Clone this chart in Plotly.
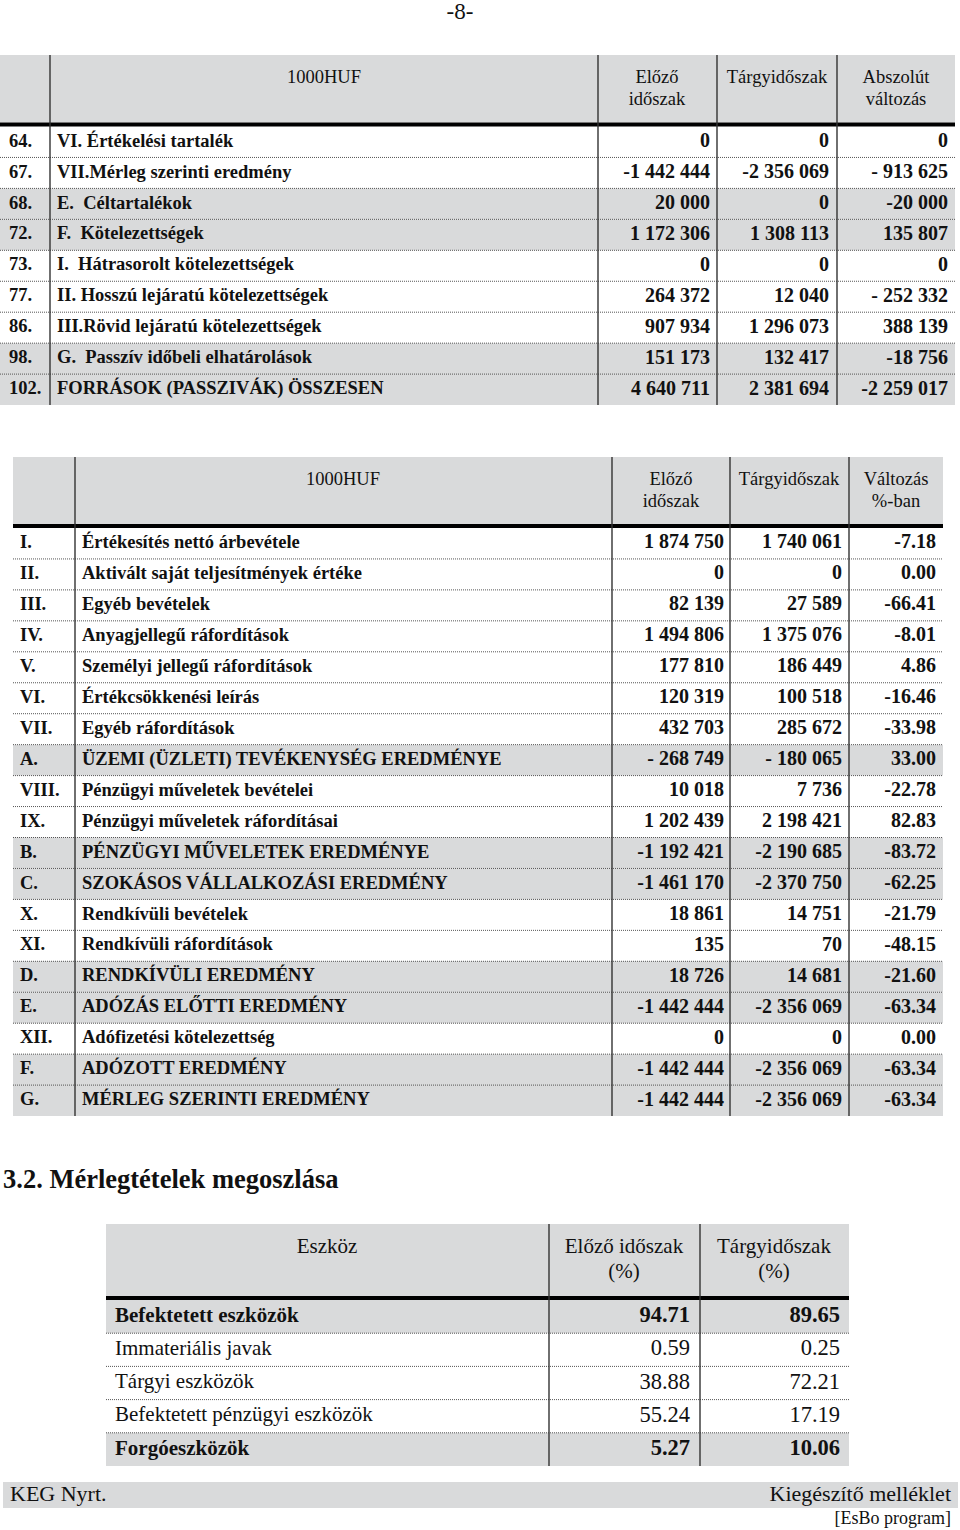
import plotly.graph_objects as go

SERIF = "Liberation Serif"
GRAY = "#d9dadb"
INK = "#111111"
NB = "\u00a0"

# 1. tábla - források (1000HUF)
t1_head = ["1000HUF", "Előző<br>időszak", "Tárgyidőszak", "Abszolút<br>változás"]
t1_code = ["64.", "67.", "68.", "72.", "73.", "77.", "86.", "98.", "102."]
t1_label = ["VI. Értékelési tartalék", "VII.Mérleg szerinti eredmény",
            "E." + NB + " Céltartalékok", "F." + NB + " Kötelezettségek",
            "I." + NB + " Hátrasorolt kötelezettségek", "II. Hosszú lejáratú kötelezettségek",
            "III.Rövid lejáratú kötelezettségek", "G." + NB + " Passzív időbeli elhatárolások",
            "FORRÁSOK (PASSZIVÁK) ÖSSZESEN"]
t1_prev = ["0", "-1 442 444", "20 000", "1 172 306", "0", "264 372", "907 934", "151 173", "4 640 711"]
t1_curr = ["0", "-2 356 069", "0", "1 308 113", "0", "12 040", "1 296 073", "132 417", "2 381 694"]
t1_diff = ["0", "- 913 625", "-20 000", "135 807", "0", "- 252 332", "388 139", "-18 756", "-2 259 017"]

# 2. tábla - eredménykimutatás (1000HUF)
t2_head = ["1000HUF", "Előző<br>időszak", "Tárgyidőszak", "Változás<br>%-ban"]
t2_code = ["I.", "II.", "III.", "IV.", "V.", "VI.", "VII.", "A.", "VIII.", "IX.",
           "B.", "C.", "X.", "XI.", "D.", "E.", "XII.", "F.", "G."]
t2_label = ["Értékesítés nettó árbevétele", "Aktivált saját teljesítmények értéke",
            "Egyéb bevételek", "Anyagjellegű ráfordítások", "Személyi jellegű ráfordítások",
            "Értékcsökkenési leírás", "Egyéb ráfordítások", "ÜZEMI (ÜZLETI) TEVÉKENYSÉG EREDMÉNYE",
            "Pénzügyi műveletek bevételei", "Pénzügyi műveletek ráfordításai",
            "PÉNZÜGYI MŰVELETEK EREDMÉNYE", "SZOKÁSOS VÁLLALKOZÁSI EREDMÉNY",
            "Rendkívüli bevételek", "Rendkívüli ráfordítások", "RENDKÍVÜLI EREDMÉNY",
            "ADÓZÁS ELŐTTI EREDMÉNY", "Adófizetési kötelezettség", "ADÓZOTT EREDMÉNY",
            "MÉRLEG SZERINTI EREDMÉNY"]
t2_prev = ["1 874 750", "0", "82 139", "1 494 806", "177 810", "120 319", "432 703", "- 268 749",
           "10 018", "1 202 439", "-1 192 421", "-1 461 170", "18 861", "135", "18 726",
           "-1 442 444", "0", "-1 442 444", "-1 442 444"]
t2_curr = ["1 740 061", "0", "27 589", "1 375 076", "186 449", "100 518", "285 672", "- 180 065",
           "7 736", "2 198 421", "-2 190 685", "-2 370 750", "14 751", "70", "14 681",
           "-2 356 069", "0", "-2 356 069", "-2 356 069"]
t2_pct = [-7.18, 0.00, -66.41, -8.01, 4.86, -16.46, -33.98, 33.00, -22.78, 82.83,
          -83.72, -62.25, -21.79, -48.15, -21.60, -63.34, 0.00, -63.34, -63.34]

# 3.2. Mérlegtételek megoszlása
t3_head = ["Eszköz", "Előző időszak<br>(%)", "Tárgyidőszak<br>(%)"]
t3_label = ["Befektetett eszközök", "Immateriális javak", "Tárgyi eszközök",
            "Befektetett pénzügyi eszközök", "Forgóeszközök"]
t3_prev = [94.71, 0.59, 38.88, 55.24, 5.27]
t3_curr = [89.65, 0.25, 72.21, 17.19, 10.06]

# kiemelt (szürke, félkövér) sorok
t1_shaded = {"68.", "72.", "98.", "102."}
t2_shaded = {"A.", "B.", "C.", "D.", "E.", "F.", "G."}
t3_shaded = {"Befektetett eszközök", "Forgóeszközök"}

fig = go.Figure()
shapes = []


def text(xs, ys, labels, pos, size, bold=False):
    if bold:
        labels = ["<b>%s</b>" % s for s in labels]
    fig.add_trace(go.Scatter(
        x=xs, y=ys, text=labels, mode="text", textposition=pos, cliponaxis=False,
        textfont=dict(family=SERIF, size=size, color=INK),
        hoverinfo="skip", showlegend=False))


def rect(x0, y0, x1, y1, color=GRAY):
    shapes.append(dict(type="rect", xref="x", yref="y", x0=x0, x1=x1, y0=y0, y1=y1,
                       fillcolor=color, line=dict(width=0), layer="below"))


def hline(x0, x1, y, width=1, dash="1px,1px", color="#555"):
    shapes.append(dict(type="line", xref="x", yref="y", x0=x0, x1=x1, y0=y, y1=y,
                       line=dict(width=width, dash=dash, color=color), layer="below"))


def vline(x, y0, y1):
    shapes.append(dict(type="line", xref="x", yref="y", x0=x, x1=x, y0=y0, y1=y1,
                       line=dict(width=1.4, color="#333"), layer="below"))


def table(g, head, rows_left, rows_right, shaded):
    n = len(rows_right[0])
    top, hb, rh = g["top"], g["head_bottom"], g["row_h"]
    body = hb + 4
    bottom = body + n * rh
    rect(g["left"], top, g["right"], hb)
    for i in range(n):
        if i in shaded:
            rect(g["left"], body + i * rh, g["right"], body + (i + 1) * rh)
        if i > 0:
            hline(g["left"], g["right"], body + i * rh)
    hline(g["left"], g["right"], hb + 2, width=4, dash="solid", color="#000")
    for x in g["cols"]:
        vline(x, top, bottom)
    # fejléc
    for cx, h in zip(g["head_x"], head):
        for k, line in enumerate(h.split("<br>")):
            text([cx], [g["head_y"] + k * g["head_gap"]], [line], "middle center", g["head_size"])
    ys = [body + (i + 0.5) * rh for i in range(n)]
    groups = [(None, list(range(n)))] if g["all_bold"] else \
        [(False, [i for i in range(n) if i not in shaded]), (True, [i for i in range(n) if i in shaded])]
    for flag, idx in groups:
        bold = True if flag is None else flag
        for x, col in zip(g["left_x"], rows_left):
            text([x] * len(idx), [ys[i] for i in idx], [col[i] for i in idx],
                 "middle right", g["label_size"], bold=bold)
        for x, col in zip(g["right_x"], rows_right):
            text([x] * len(idx), [ys[i] for i in idx], [col[i] for i in idx],
                 "middle left", g["num_size"], bold=bold)


# oldalszám
text([460], [13], ["-8-"], "middle center", 23)

table(dict(top=55, head_bottom=122.5, row_h=30.95, left=0, right=955,
           cols=[50, 598, 717, 837], head_x=[324, 657, 777, 896], head_y=78, head_gap=22,
           head_size=18.5, left_x=[9, 57], right_x=[710, 829, 948],
           label_size=18.5, num_size=20, all_bold=True),
      t1_head, [t1_code, t1_label], [t1_prev, t1_curr, t1_diff],
      {i for i, c in enumerate(t1_code) if c in t1_shaded})

table(dict(top=457, head_bottom=524, row_h=30.95, left=13, right=943,
           cols=[75, 612, 730, 849], head_x=[343, 671, 789, 896], head_y=480, head_gap=22,
           head_size=18.5, left_x=[20, 82], right_x=[724, 842, 936],
           label_size=18.5, num_size=20, all_bold=True),
      t2_head, [t2_code, t2_label], [t2_prev, t2_curr, ["%.2f" % v for v in t2_pct]],
      {i for i, c in enumerate(t2_code) if c in t2_shaded})

text([3], [1181], ["3.2. Mérlegtételek megoszlása"], "middle right", 26.5, bold=True)

table(dict(top=1224, head_bottom=1296, row_h=33.2, left=106, right=849,
           cols=[549, 700], head_x=[327, 624, 774], head_y=1248, head_gap=25,
           head_size=21, left_x=[115], right_x=[690, 840],
           label_size=21, num_size=22.5, all_bold=False),
      t3_head, [t3_label], [["%.2f" % v for v in t3_prev], ["%.2f" % v for v in t3_curr]],
      {i for i, c in enumerate(t3_label) if c in t3_shaded})

# lábléc
rect(3, 1482, 958, 1508)
text([10], [1495], ["KEG Nyrt."], "middle right", 22)
text([951], [1495], ["Kiegészítő melléklet"], "middle left", 22)
text([951], [1519], ["[EsBo program]"], "middle left", 18)

# a koordináták a képernyő pixeleit követik
fig.update_layout(
    width=960, height=1530, margin=dict(l=0, r=0, t=0, b=0),
    paper_bgcolor="white", plot_bgcolor="white", shapes=shapes,
    xaxis=dict(range=[0, 960], visible=False, fixedrange=True),
    yaxis=dict(range=[1530, 0], visible=False, fixedrange=True),
)

fig.write_html("out.html", config={"displayModeBar": False},
               post_script="document.body.style.margin='0';")
